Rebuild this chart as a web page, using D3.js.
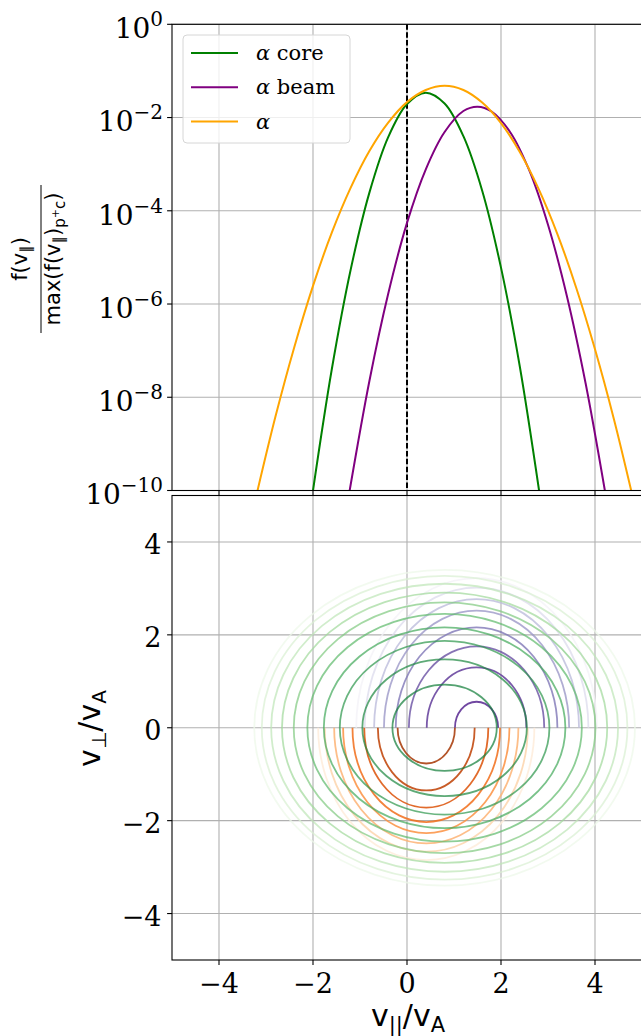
<!DOCTYPE html>
<html>
<head>
<meta charset="utf-8">
<script src="https://cdn.jsdelivr.net/npm/d3@7"></script>
<style>
  body { margin: 0; background: #fff; }
  svg { display: block; }
</style>
</head>
<body>
<div id="chart"></div>
<script>
// top panel: reduced 1D distributions, normalised to the proton core max
const coreV = [-2.0, -1.6, -1.2, -0.8, -0.4, 0, 0.4, 0.8, 1.2, 1.6, 2.0, 2.4, 2.81]
const coreF = [1e-10, 3.98e-8, 5.37e-6, 2.45e-4, 3.8e-3, 1.95e-2, 3.42e-2, 2.0e-2, 3.98e-3, 2.69e-4, 6.03e-6, 4.57e-8, 1e-10]

const beamV = [-1.22, -0.8, -0.4, 0, 0.4, 0.8, 1.2, 1.5, 1.8, 2.2, 2.6, 3.0, 3.4, 3.8, 4.21]
const beamF = [1e-10, 2.24e-8, 1.66e-6, 5.5e-5, 7.76e-4, 4.9e-3, 1.38e-2, 1.71e-2, 1.35e-2, 4.79e-3, 7.41e-4, 5.01e-5, 1.51e-6, 2.0e-8, 1e-10]

const alphaV = [-3.18, -2.8, -2.4, -2.0, -1.6, -1.2, -0.8, -0.4, 0, 0.4, 0.8, 1.2, 1.6, 2.0, 2.4, 2.8, 3.2, 3.6, 4.0, 4.4, 4.77]
const alphaF = [1e-10, 3.8e-9, 1.17e-7, 2.45e-6, 3.39e-5, 3.09e-4, 1.91e-3, 7.76e-3, 2.14e-2, 3.89e-2, 4.79e-2, 3.89e-2, 2.09e-2, 7.59e-3, 1.82e-3, 2.95e-4, 3.16e-5, 2.24e-6, 1.07e-7, 3.47e-9, 1e-10]

const legendLabels = ["core", "beam", ""]

const beamCenter = 1.48
const beamA = [0.46, 1.06, 1.44, 1.72, 1.97, 2.18, 2.38, 2.56]
const beamB = [0.56, 1.30, 1.75, 2.16, 2.52, 2.77, 3.02, 3.22]

const coreCenter = 0.41
const coreA = [0.61, 1.03, 1.32, 1.57, 1.77, 1.96, 2.16, 2.30]
const coreB = [0.77, 1.35, 1.72, 2.03, 2.27, 2.49, 2.67, 2.85]

const alphaCenter = 0.80
const alphaA = [1.11, 1.75, 2.23, 2.57, 2.92, 3.21, 3.46, 3.69, 3.89, 4.05]
const alphaB = [0.93, 1.47, 1.87, 2.16, 2.45, 2.70, 2.91, 3.10, 3.27, 3.40]

const xTicks = [-4, -2, 0, 2, 4]
const yTicksTop = [0, -2, -4, -6, -8, -10]
const yTicksBot = [-4, -2, 0, 2, 4]

const W = 641, H = 1036
const serif = "DejaVu Serif"
const sans = "DejaVu Sans"

const x = d3.scaleLinear().domain([-5, 5]).range([172, 642])
const yTop = d3.scaleLog().domain([1e-10, 1]).range([490.5, 24.3])
const yBot = d3.scaleLinear().domain([-5, 5]).range([960, 495.5])

const svg = d3.select("#chart").append("svg")
  .attr("width", W)
  .attr("height", H)
  .style("font-family", serif)

svg.append("rect").attr("width", W).attr("height", H).attr("fill", "#fff")

const defs = svg.append("defs")
defs.append("clipPath").attr("id", "clip-top")
  .append("rect")
    .attr("x", x(-5)).attr("y", yTop(1))
    .attr("width", x(5) - x(-5)).attr("height", yTop(1e-10) - yTop(1))
defs.append("clipPath").attr("id", "clip-bot")
  .append("rect")
    .attr("x", x(-5)).attr("y", yBot(5))
    .attr("width", x(5) - x(-5)).attr("height", yBot(-5) - yBot(5))

const gridColor = "#b0b0b0"

// ---------- top panel ----------
const topG = svg.append("g")

topG.append("g").selectAll("line")
  .data(xTicks)
  .join("line")
    .attr("x1", d => x(d)).attr("x2", d => x(d))
    .attr("y1", yTop(1)).attr("y2", yTop(1e-10))
    .attr("stroke", gridColor).attr("stroke-width", 1.1)
topG.append("g").selectAll("line")
  .data(yTicksTop)
  .join("line")
    .attr("x1", x(-5)).attr("x2", x(5))
    .attr("y1", d => yTop(10 ** d)).attr("y2", d => yTop(10 ** d))
    .attr("stroke", gridColor).attr("stroke-width", 1.1)

const line = d3.line()
  .x(d => x(d[0]))
  .y(d => yTop(d[1]))
  .curve(d3.curveCatmullRom)

const curves = [
  {v: coreV, f: coreF, color: "green"},
  {v: beamV, f: beamF, color: "purple"},
  {v: alphaV, f: alphaF, color: "orange"},
]

topG.append("line")
  .attr("x1", x(0)).attr("x2", x(0))
  .attr("y1", yTop(1)).attr("y2", yTop(1e-10))
  .attr("stroke", "black").attr("stroke-width", 2)
  .attr("stroke-dasharray", "5.5,2.4")

topG.append("g").attr("clip-path", "url(#clip-top)")
  .selectAll("path")
  .data(curves)
  .join("path")
    .attr("d", c => line(c.v.map((v, i) => [v, c.f[i]])))
    .attr("fill", "none")
    .attr("stroke", c => c.color)
    .attr("stroke-width", 2)

// spines
topG.append("rect")
  .attr("x", x(-5)).attr("y", yTop(1))
  .attr("width", x(5) - x(-5)).attr("height", yTop(1e-10) - yTop(1))
  .attr("fill", "none").attr("stroke", "black").attr("stroke-width", 1.1)

// ticks
topG.append("g").selectAll("line")
  .data(xTicks)
  .join("line")
    .attr("x1", d => x(d)).attr("x2", d => x(d))
    .attr("y1", yTop(1e-10)).attr("y2", yTop(1e-10) + 4.9)
    .attr("stroke", "black").attr("stroke-width", 1.1)
topG.append("g").selectAll("line")
  .data(yTicksTop)
  .join("line")
    .attr("x1", x(-5) - 4.9).attr("x2", x(-5))
    .attr("y1", d => yTop(10 ** d)).attr("y2", d => yTop(10 ** d))
    .attr("stroke", "black").attr("stroke-width", 1.1)

topG.append("g").selectAll("text")
  .data(yTicksTop)
  .join("text")
    .attr("x", 163)
    .attr("y", d => yTop(10 ** d) + 13.8)
    .attr("text-anchor", "end")
    .style("font-size", "28px")
    .each(function(d) {
      const t = d3.select(this)
      t.append("tspan").text("10")
      t.append("tspan").attr("dy", -12).style("font-size", "20px")
        .text(d === 0 ? "0" : "\u2212" + (-d))
    })

// y label (fraction)
const yl = topG.append("g")
  .attr("transform", `translate(0,259) rotate(-90)`)
  .style("font-family", sans)
  .style("font-size", "21px")
const num = yl.append("text").attr("x", 0).attr("y", 27).attr("text-anchor", "middle")
num.append("tspan").text("f(v")
num.append("tspan").attr("dy", 4).style("font-size", "15px").text("\u2225")
num.append("tspan").attr("dy", -4).text(")")
yl.append("line")
  .attr("x1", -74).attr("x2", 74)
  .attr("y1", 41).attr("y2", 41)
  .attr("stroke", "black").attr("stroke-width", 1)
const den = yl.append("text").attr("x", 0).attr("y", 60).attr("text-anchor", "middle")
den.append("tspan").text("max(f(v")
den.append("tspan").attr("dy", 4).style("font-size", "15px").text("\u2225")
den.append("tspan").attr("dy", -4).text(")")
den.append("tspan").attr("dy", 5).style("font-size", "15px").text("p")
den.append("tspan").attr("dy", -6).style("font-size", "11px").text("+")
den.append("tspan").attr("dy", 6).style("font-size", "15px").text("c")
den.append("tspan").attr("dy", -5).text(")")

// legend
const leg = topG.append("g")
leg.append("rect")
  .attr("x", 183).attr("y", 35).attr("width", 167).attr("height", 108)
  .attr("rx", 4)
  .attr("fill", "white").attr("fill-opacity", 0.8)
  .attr("stroke", "#d6d6d6").attr("stroke-width", 1)
curves.forEach((c, i) => {
  const ly = 53 + i * 34.3
  leg.append("line")
    .attr("x1", 191).attr("x2", 238)
    .attr("y1", ly).attr("y2", ly)
    .attr("stroke", c.color).attr("stroke-width", 2)
  const t = leg.append("text")
    .attr("x", 256).attr("y", ly + 7)
    .style("font-size", "21px")
  t.append("tspan").style("font-style", "italic").text("\u03b1")
  if (legendLabels[i]) t.append("tspan").text(" " + legendLabels[i])
})

// ---------- bottom panel ----------
const botG = svg.append("g")

botG.append("g").selectAll("line")
  .data(xTicks)
  .join("line")
    .attr("x1", d => x(d)).attr("x2", d => x(d))
    .attr("y1", yBot(5)).attr("y2", yBot(-5))
    .attr("stroke", gridColor).attr("stroke-width", 1.1)
botG.append("g").selectAll("line")
  .data(yTicksBot)
  .join("line")
    .attr("x1", x(-5)).attr("x2", x(5))
    .attr("y1", d => yBot(d)).attr("y2", d => yBot(d))
    .attr("stroke", gridColor).attr("stroke-width", 1.1)

function levelColor(interp, tMax, i, n) {
  // innermost level darkest, outermost almost white
  return interp(tMax - (tMax - 0.07) * Math.pow(i / (n - 1), 1.3))
}

function halfEllipse(cx, a, b, upper) {
  const x0 = x(cx - a), x1 = x(cx + a), y0 = yBot(0)
  const rx = x(cx + a) - x(cx)
  const ry = yBot(0) - yBot(b)
  return `M${x0},${y0} A${rx},${ry} 0 0 ${upper ? 1 : 0} ${x1},${y0}`
}

const cont = botG.append("g").attr("clip-path", "url(#clip-bot)")
  .attr("fill", "none").attr("stroke-width", 1.8)

cont.append("g").selectAll("path")
  .data(beamA)
  .join("path")
    .attr("d", (a, i) => halfEllipse(beamCenter, a, beamB[i], true))
    .attr("stroke", (a, i) => levelColor(d3.interpolatePurples, 0.92, i, beamA.length))
    .attr("stroke-opacity", 0.8)

cont.append("g").selectAll("path")
  .data(coreA)
  .join("path")
    .attr("d", (a, i) => halfEllipse(coreCenter, a, coreB[i], false))
    .attr("stroke", (a, i) => levelColor(d3.interpolateOranges, 0.88, i, coreA.length))
    .attr("stroke-opacity", 0.85)

cont.append("g").selectAll("ellipse")
  .data(alphaA)
  .join("ellipse")
    .attr("cx", x(alphaCenter))
    .attr("cy", yBot(0))
    .attr("rx", a => x(alphaCenter + a) - x(alphaCenter))
    .attr("ry", (a, i) => yBot(0) - yBot(alphaB[i]))
    .attr("stroke", (a, i) => levelColor(d3.interpolateGreens, 0.8, i, alphaA.length))
    .attr("stroke-opacity", 0.72)

botG.append("rect")
  .attr("x", x(-5)).attr("y", yBot(5))
  .attr("width", x(5) - x(-5)).attr("height", yBot(-5) - yBot(5))
  .attr("fill", "none").attr("stroke", "black").attr("stroke-width", 1.1)

botG.append("g").selectAll("line")
  .data(xTicks)
  .join("line")
    .attr("x1", d => x(d)).attr("x2", d => x(d))
    .attr("y1", yBot(-5)).attr("y2", yBot(-5) + 4.9)
    .attr("stroke", "black").attr("stroke-width", 1.1)
botG.append("g").selectAll("line")
  .data(yTicksBot)
  .join("line")
    .attr("x1", x(-5) - 4.9).attr("x2", x(-5))
    .attr("y1", d => yBot(d)).attr("y2", d => yBot(d))
    .attr("stroke", "black").attr("stroke-width", 1.1)

const fmt = d => d < 0 ? "\u2212" + (-d) : String(d)
botG.append("g").selectAll("text")
  .data(xTicks)
  .join("text")
    .attr("x", d => x(d))
    .attr("y", yBot(-5) + 33)
    .attr("text-anchor", "middle")
    .style("font-size", "27px")
    .text(fmt)
botG.append("g").selectAll("text")
  .data(yTicksBot)
  .join("text")
    .attr("x", 161.5)
    .attr("y", d => yBot(d) + 12.4)
    .attr("text-anchor", "end")
    .style("font-size", "27px")
    .text(fmt)

// axis labels
const xl = botG.append("text")
  .attr("x", 408).attr("y", 1026)
  .attr("text-anchor", "middle")
  .style("font-family", sans).style("font-size", "30px")
xl.append("tspan").text("v")
xl.append("tspan").attr("dy", 6).style("font-size", "21px").text("||")
xl.append("tspan").attr("dy", -6).text("/v")
xl.append("tspan").attr("dy", 6).style("font-size", "21px").text("A")

const ylb = botG.append("text")
  .attr("transform", `translate(100,728.5) rotate(-90)`)
  .attr("text-anchor", "middle")
  .style("font-family", sans).style("font-size", "30px")
ylb.append("tspan").text("v")
ylb.append("tspan").attr("dy", 6).style("font-size", "20px").text("\u22a5")
ylb.append("tspan").attr("dy", -6).text("/v")
ylb.append("tspan").attr("dy", 6).style("font-size", "20px").text("A")
</script>
</body>
</html>
